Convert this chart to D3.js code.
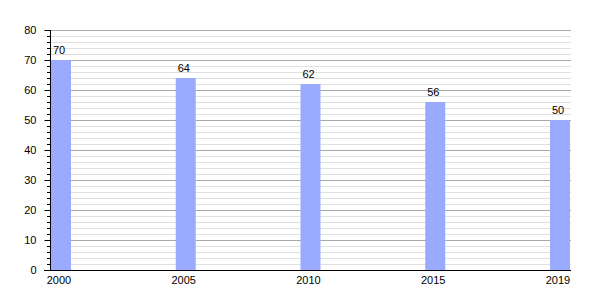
<!DOCTYPE html>
<html><head><meta charset="utf-8">
<script src="https://cdn.jsdelivr.net/npm/d3@7"></script>
<style>body{margin:0;background:#fff}svg{display:block;font-family:"Liberation Sans",Arial,sans-serif}</style>
</head><body><svg id="c" width="600" height="300"></svg>
<script>
const categories = ["2000","2005","2010","2015","2019"];
const values = [70,64,62,56,50];
const yTicks = [0,10,20,30,40,50,60,70,80];

(function(){
const svg = d3.select("#c");
const mLeft = 50, mRight = 571, mTop = 30, mBottom = 270, barW = 20;
const y = d3.scaleLinear().domain([0,80]).range([mBottom, mTop]);
const x = d3.scalePoint().domain(categories).range([mLeft+1, mRight-barW-1]);

const minor = d3.range(2, 81, 2).filter(v => v % 10 !== 0);
svg.append("g").selectAll("line").data(minor).join("line")
  .attr("x1", mLeft).attr("x2", mRight)
  .attr("y1", d => Math.round(y(d))+0.5).attr("y2", d => Math.round(y(d))+0.5)
  .attr("stroke", "#e0e0e0").attr("stroke-width", 1);
svg.append("g").selectAll("line").data(yTicks.slice(1)).join("line")
  .attr("x1", mLeft).attr("x2", mRight)
  .attr("y1", d => Math.round(y(d))+0.5).attr("y2", d => Math.round(y(d))+0.5)
  .attr("stroke", "#a8a8a8").attr("stroke-width", 1);

svg.append("g").selectAll("rect").data(values).join("rect")
  .attr("x", (d,i) => x(categories[i])).attr("width", barW)
  .attr("y", d => y(d)).attr("height", d => mBottom - y(d))
  .attr("fill", "#99aaff");

svg.append("g").selectAll("text").data(values).join("text")
  .attr("x", (d,i) => x(categories[i]) + barW/2 - 2).attr("y", d => y(d) - 6)
  .attr("text-anchor", "middle").attr("font-size", 11).attr("fill", "#000")
  .text(d => d);

const ya = svg.append("g").attr("transform", `translate(${mLeft+0.5},0)`)
  .call(d3.axisLeft(y).tickValues(yTicks).tickSize(6).tickPadding(8).tickFormat(d3.format("d")));
ya.select(".domain").remove();
ya.selectAll("text").attr("font-size", 11).attr("font-family", "Liberation Sans, Arial, sans-serif").attr("fill", "#000");
ya.selectAll("line").attr("stroke", "#000");
svg.append("g").selectAll("line").data(minor).join("line")
  .attr("x1", mLeft-3).attr("x2", mLeft)
  .attr("y1", d => Math.round(y(d))+0.5).attr("y2", d => Math.round(y(d))+0.5)
  .attr("stroke", "#000");
svg.append("line").attr("x1", mLeft+0.5).attr("x2", mLeft+0.5).attr("y1", mTop).attr("y2", mBottom+1).attr("stroke", "#000");

svg.append("line").attr("x1", mLeft-6).attr("x2", mRight).attr("y1", mBottom+0.5).attr("y2", mBottom+0.5).attr("stroke", "#000");
svg.append("g").selectAll("text").data(categories).join("text")
  .attr("x", d => x(d) + barW/2 - 2).attr("y", mBottom + 14)
  .attr("text-anchor", "middle").attr("font-size", 11).attr("fill", "#000")
  .text(d => d);
})();
</script></body></html>
